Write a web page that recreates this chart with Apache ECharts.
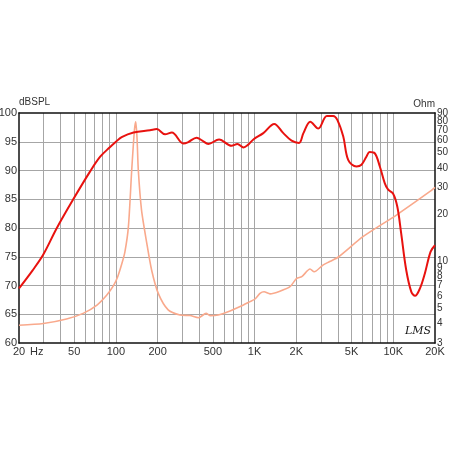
<!DOCTYPE html>
<html><head><meta charset="utf-8">
<script src="https://cdn.jsdelivr.net/npm/echarts@6/dist/echarts.min.js"></script>
<style>html,body{margin:0;padding:0;background:#fff}#c{width:450px;height:450px}</style>
</head><body><div id="c"></div>
<script>
// SPL response (Hz, dB)
const splFreq = [20,25,29.8,37.5,49,65,77,90,100,110,134,176,197,226,253,306,330,382,420,464,554,682,752,832,900,980,1156,1386,1612,1848,2090,2250,2520,2880,3320,3690,3950,4360,4740,5430,5900,6400,6760,7350,8000,8680,9160,9960,10700,11400,12400,13500,14360,15580,16900,18600,20000];
const splDb   = [69.5,72.6,75.3,80.0,84.9,89.8,92.4,94.0,95.0,95.8,96.6,97.0,97.2,96.3,96.6,94.7,94.9,95.7,95.2,94.6,95.4,94.3,94.6,94.0,94.5,95.4,96.5,98.1,96.5,95.2,94.8,96.5,98.5,97.3,99.5,99.5,98.8,95.9,91.8,90.7,91.0,92.4,93.2,93.0,90.7,87.8,86.7,86.0,83.7,79.1,72.7,68.9,68.2,69.5,72.1,75.9,77.0];
// Impedance (Hz, Ohm)
const impFreq = [20,30,44,58,73,86,96,103,110,116,123,130,136,139,142,145,153,167,181,202,238,290,342,394,447,477,546,665,787,926,1008,1094,1170,1292,1522,1800,2010,2190,2510,2690,3110,3480,4020,6080,10540,18300,20000];
const impOhm  = [3.9,4.0,4.28,4.65,5.26,6.1,7.0,8.0,9.6,11.5,16.7,38.7,70,79,62,38.7,21.4,13.1,8.8,6.25,4.9,4.54,4.5,4.36,4.65,4.5,4.54,4.82,5.14,5.53,5.75,6.25,6.4,6.2,6.45,6.9,7.8,8.0,8.96,8.6,9.5,10.0,10.7,14.5,19.9,28.1,30];
// Axis ticks
const xGridFreqs = [20,30,40,50,60,70,80,90,100,200,300,400,500,600,700,800,900,1000,2000,3000,4000,5000,6000,7000,8000,9000,10000,20000];
const xLabelFreqs = [20,50,100,200,500,1000,2000,5000,10000,20000];
const xLabelText  = ['20','50','100','200','500','1K','2K','5K','10K','20K'];
const ohmTicks = [3,4,5,6,7,8,9,10,20,30,40,50,60,70,80,90];

const L = Math.log10;
const EPS = 1e-6;
const font = 'Liberation Sans, Arial, sans-serif';
const labelMap = {};
xLabelFreqs.forEach((f,i)=>{labelMap[f]=xLabelText[i];});
const frame = {show:true, onZero:false, lineStyle:{color:'#111', width:1.5}};
const grid = {color:'#a6a6a6', width:1};
// split ohm labels over two overlaid axes so tightly packed labels are not auto-hidden
const ohmA = ohmTicks.filter((v,i)=>i%2===0);
const ohmB = ohmTicks.filter((v,i)=>i%2===1);
function ohmAxis(vals, primary){
  return {
    type:'value', position:'right', min:L(3)-EPS, max:L(90)+EPS,
    name: primary ? 'Ohm' : '', nameLocation:'end', nameGap:4,
    nameTextStyle:{align:'right', color:'#333', fontSize:10, fontFamily:font},
    axisLine: primary ? frame : {show:false}, axisTick:{show:false, customValues:vals.map(L)}, splitLine:{show:false},
    axisLabel:{customValues:vals.map(L), formatter:v=>String(Math.round(Math.pow(10,v))),
      showMinLabel:true, showMaxLabel:true, hideOverlap:false,
      color:'#333', fontSize:10, fontFamily:font, margin:2}
  };
}

const chart = echarts.init(document.getElementById('c'));
chart.setOption({
  animation:false,
  backgroundColor:'#fff',
  grid:{left:19, right:15, top:113, bottom:107, outerBoundsMode:'none'},
  xAxis:[{
    type:'value', min:L(20)-EPS, max:L(20000)+EPS,
    axisLine:frame,
    axisTick:{show:false, customValues:xGridFreqs.map(L)},
    splitLine:{show:true, showMinLine:false, showMaxLine:false, lineStyle:grid},
    axisLabel:{customValues:xLabelFreqs.map(L), formatter:v=>labelMap[Math.round(Math.pow(10,v))]||'',
      showMinLabel:true, showMaxLabel:true, hideOverlap:false,
      color:'#333', fontSize:11, fontFamily:font, margin:3}
  },{
    type:'value', position:'top', min:L(20)-EPS, max:L(20000)+EPS,
    axisLine:frame, axisTick:{show:false}, axisLabel:{show:false}, splitLine:{show:false}
  }],
  yAxis:[{
    type:'value', min:60, max:100, interval:5,
    name:'dBSPL', nameLocation:'end', nameGap:4,
    nameTextStyle:{align:'left', color:'#333', fontSize:10, fontFamily:font},
    axisLine:frame, axisTick:{show:false},
    splitLine:{show:true, showMinLine:false, showMaxLine:false, lineStyle:grid},
    axisLabel:{color:'#333', fontSize:11, fontFamily:font, margin:2, showMinLabel:true, showMaxLabel:true}
  }, ohmAxis(ohmA, true), ohmAxis(ohmB, false)],
  graphic:[
    {type:'text', left:30, top:346, style:{text:'Hz', fill:'#333', font:'11px '+font}},
    {type:'text', right:19, top:326, style:{text:'LMS', fill:'#111', font:'italic 11px DejaVu Serif'}}
  ],
  series:[{
    type:'line', xAxisIndex:0, yAxisIndex:1, showSymbol:false, smooth:0.25,
    data:impFreq.map((f,i)=>[L(f), L(impOhm[i])]),
    lineStyle:{color:'#f9a98c', width:1.6}, z:2
  },{
    type:'line', xAxisIndex:0, yAxisIndex:0, showSymbol:false, smooth:0.35,
    data:splFreq.map((f,i)=>[L(f), splDb[i]]),
    lineStyle:{color:'#e8120f', width:2}, z:3
  }]
});
</script></body></html>
